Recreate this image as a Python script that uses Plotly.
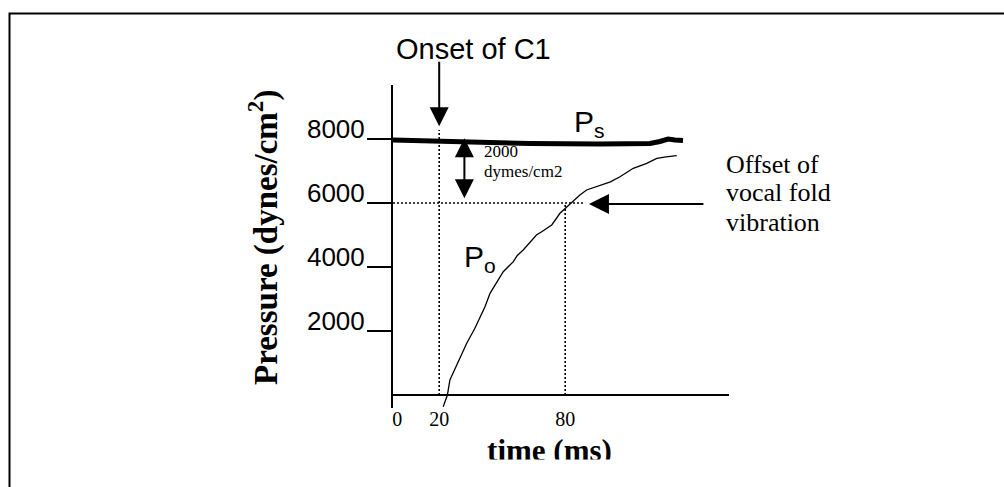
import plotly.graph_objects as go

W, H = 1004, 487

# ---------------- data ----------------
# P_o : oral pressure curve (time in ms, pressure in dynes/cm2)
po_time = [21.9, 23.9, 25.1, 28.3, 31.0, 33.1, 37.0, 39.5, 41.8, 44.2, 47.4, 48.6,
           50.5, 55.3, 57.2, 60.0, 64.0, 66.3, 68.8, 73.6, 77.5, 83.1, 87.0,
           90.2, 96.6, 101.5, 106.1, 112.4, 118.8, 123.6, 128.0, 133.1]
po_pressure = [-366, 0, 469, 938, 1300, 1616, 2084, 2420, 2759, 3178, 3541, 3640,
               3853, 4166, 4360, 4531, 4844, 5000, 5103, 5313, 5678, 6031, 6250,
               6406, 6563, 6660, 6822, 7084, 7241, 7397, 7440, 7478]
# P_s : subglottal pressure (thick line)
ps_time = [-2, 29.9, 63.2, 96.6, 120.4, 125.1, 129.0, 132.3, 136.1]
ps_pressure = [7969, 7906, 7859, 7844, 7859, 7922, 8000, 7969, 7953]

x_tick_vals = [0, 20, 80]
x_tick_text = ["0", "20", "80"]
y_tick_vals = [2000, 4000, 6000, 8000]
y_tick_text = ["2000", "4000", "6000", "8000"]

onset_time = 20       # onset of C1
offset_time = 80      # offset of vocal fold vibration
offset_pressure = 6000
delta_pressure_time = 32  # where the 2000 dynes/cm2 double arrow sits

X_RANGE = [-2, 158]
Y_RANGE = [-406.25, 9687.5]


def px(x):
    return x / W


def py(y):
    return 1 - y / H


SANS = "Liberation Sans, Arial, sans-serif"
SERIF = "Liberation Serif, Times New Roman, serif"

fig = go.Figure()

dotted = dict(color="black", width=1.6, dash="2px,2px")
fig.add_trace(go.Scatter(x=[onset_time, onset_time], y=[0, 8280], mode="lines",
                         line=dotted, hoverinfo="skip"))
fig.add_trace(go.Scatter(x=[offset_time, offset_time], y=[0, offset_pressure], mode="lines",
                         line=dotted, hoverinfo="skip"))
fig.add_trace(go.Scatter(x=[X_RANGE[0], 89.5], y=[offset_pressure, offset_pressure],
                         mode="lines", line=dotted, hoverinfo="skip"))

fig.add_trace(go.Scatter(x=ps_time, y=ps_pressure, mode="lines",
                         line=dict(color="black", width=5), name="Ps"))
fig.add_trace(go.Scatter(x=po_time, y=po_pressure, mode="lines",
                         line=dict(color="black", width=1.3), name="Po"))

# clipped x-axis title (the reference is cut off at the bottom)
fig.add_trace(go.Scatter(x=[549.5 / W], y=[0.13], mode="text", text=["time (ms)"],
                         textposition="middle center", cliponaxis=True,
                         textfont=dict(family=SERIF, size=31, color="black", weight="bold"),
                         xaxis="x2", yaxis="y2", hoverinfo="skip"))

ann = []
# Onset of C1
ann.append(dict(text="Onset of C1", xref="paper", yref="paper", x=px(394), y=py(49),
                xanchor="left", yanchor="middle", showarrow=False,
                font=dict(family=SANS, size=29, color="black")))
ann.append(dict(text="", x=onset_time, y=8400, xref="x", yref="y", ax=0, ay=-66,
                showarrow=True, arrowhead=2, arrowsize=1.9, arrowwidth=2, arrowcolor="black"))
# double arrow 2000 dynes/cm2
ann.append(dict(text="", x=delta_pressure_time, y=6150, xref="x", yref="y", ax=0, ay=-61.4,
                showarrow=True, arrowside="end+start", arrowhead=2, startarrowhead=2,
                arrowsize=1.9, startarrowsize=1.9, arrowwidth=2, arrowcolor="black"))
ann.append(dict(text="2000", xref="paper", yref="paper", x=px(482), y=py(151.3),
                xanchor="left", yanchor="middle", showarrow=False,
                font=dict(family=SERIF, size=17, color="black")))
ann.append(dict(text="dymes/cm2", xref="paper", yref="paper", x=px(482), y=py(171.3),
                xanchor="left", yanchor="middle", showarrow=False,
                font=dict(family=SERIF, size=17, color="black")))
# offset arrow
ann.append(dict(text="", x=91.3, y=5970, xref="x", yref="y", ax=116, ay=0,
                showarrow=True, arrowhead=2, arrowsize=2.0, arrowwidth=2, arrowcolor="black"))
for txt, base in [("Offset of", 173.3), ("vocal fold", 201.7), ("vibration", 231.7)]:
    ann.append(dict(text=txt, xref="paper", yref="paper", x=px(724), y=py(base - 8.8),
                    xanchor="left", yanchor="middle", showarrow=False,
                    font=dict(family=SERIF, size=26, color="black")))
# curve labels
ann.append(dict(text="P<sub>s</sub>", xref="paper", yref="paper", x=px(572), y=py(123),
                xanchor="left", yanchor="middle", showarrow=False,
                font=dict(family=SANS, size=30, color="black")))
ann.append(dict(text="P<sub>o</sub>", xref="paper", yref="paper", x=px(462), y=py(258),
                xanchor="left", yanchor="middle", showarrow=False,
                font=dict(family=SANS, size=30, color="black")))
# y-axis title
ann.append(dict(text="Pressure (dynes/cm<sup>2</sup>)", xref="paper", yref="paper",
                x=px(263), y=py(238), xanchor="center", yanchor="middle", textangle=-90,
                showarrow=False, font=dict(family=SERIF, size=33, color="black", weight="bold")))

fig.update_layout(
    width=W, height=H,
    margin=dict(l=0, r=0, t=0, b=0, pad=0),
    paper_bgcolor="white", plot_bgcolor="white",
    showlegend=False,
    xaxis=dict(domain=[px(393), px(729)], range=X_RANGE, showgrid=False, zeroline=False,
               showline=False, tickmode="array", tickvals=x_tick_vals, ticktext=x_tick_text,
               ticks="", ticklabelstandoff=-3,
               tickfont=dict(family=SERIF, size=20, color="black"), fixedrange=True),
    yaxis=dict(domain=[py(408), py(85)], range=Y_RANGE, showgrid=False,
               zeroline=True, zerolinecolor="black", zerolinewidth=2,
               showline=True, linecolor="black", linewidth=2,
               tickmode="array", tickvals=y_tick_vals, ticktext=y_tick_text,
               ticks="outside", ticklen=24, tickwidth=1.5, tickcolor="black",
               ticklabelshift=-10, ticklabelstandoff=-3,
               tickfont=dict(family=SANS, size=26, color="black"), fixedrange=True),
    xaxis2=dict(domain=[0, 1], range=[0, 1], visible=False, anchor="y2", fixedrange=True),
    yaxis2=dict(domain=[py(459.5), py(415)], range=[0, 1], visible=False, anchor="x2",
                fixedrange=True),
    annotations=ann,
    shapes=[dict(type="rect", xref="paper", yref="paper", x0=px(9.5), x1=px(1015),
                 y0=py(13.5), y1=py(500), line=dict(color="black", width=2),
                 fillcolor="rgba(0,0,0,0)")],
)

fig.write_html("out.html")
